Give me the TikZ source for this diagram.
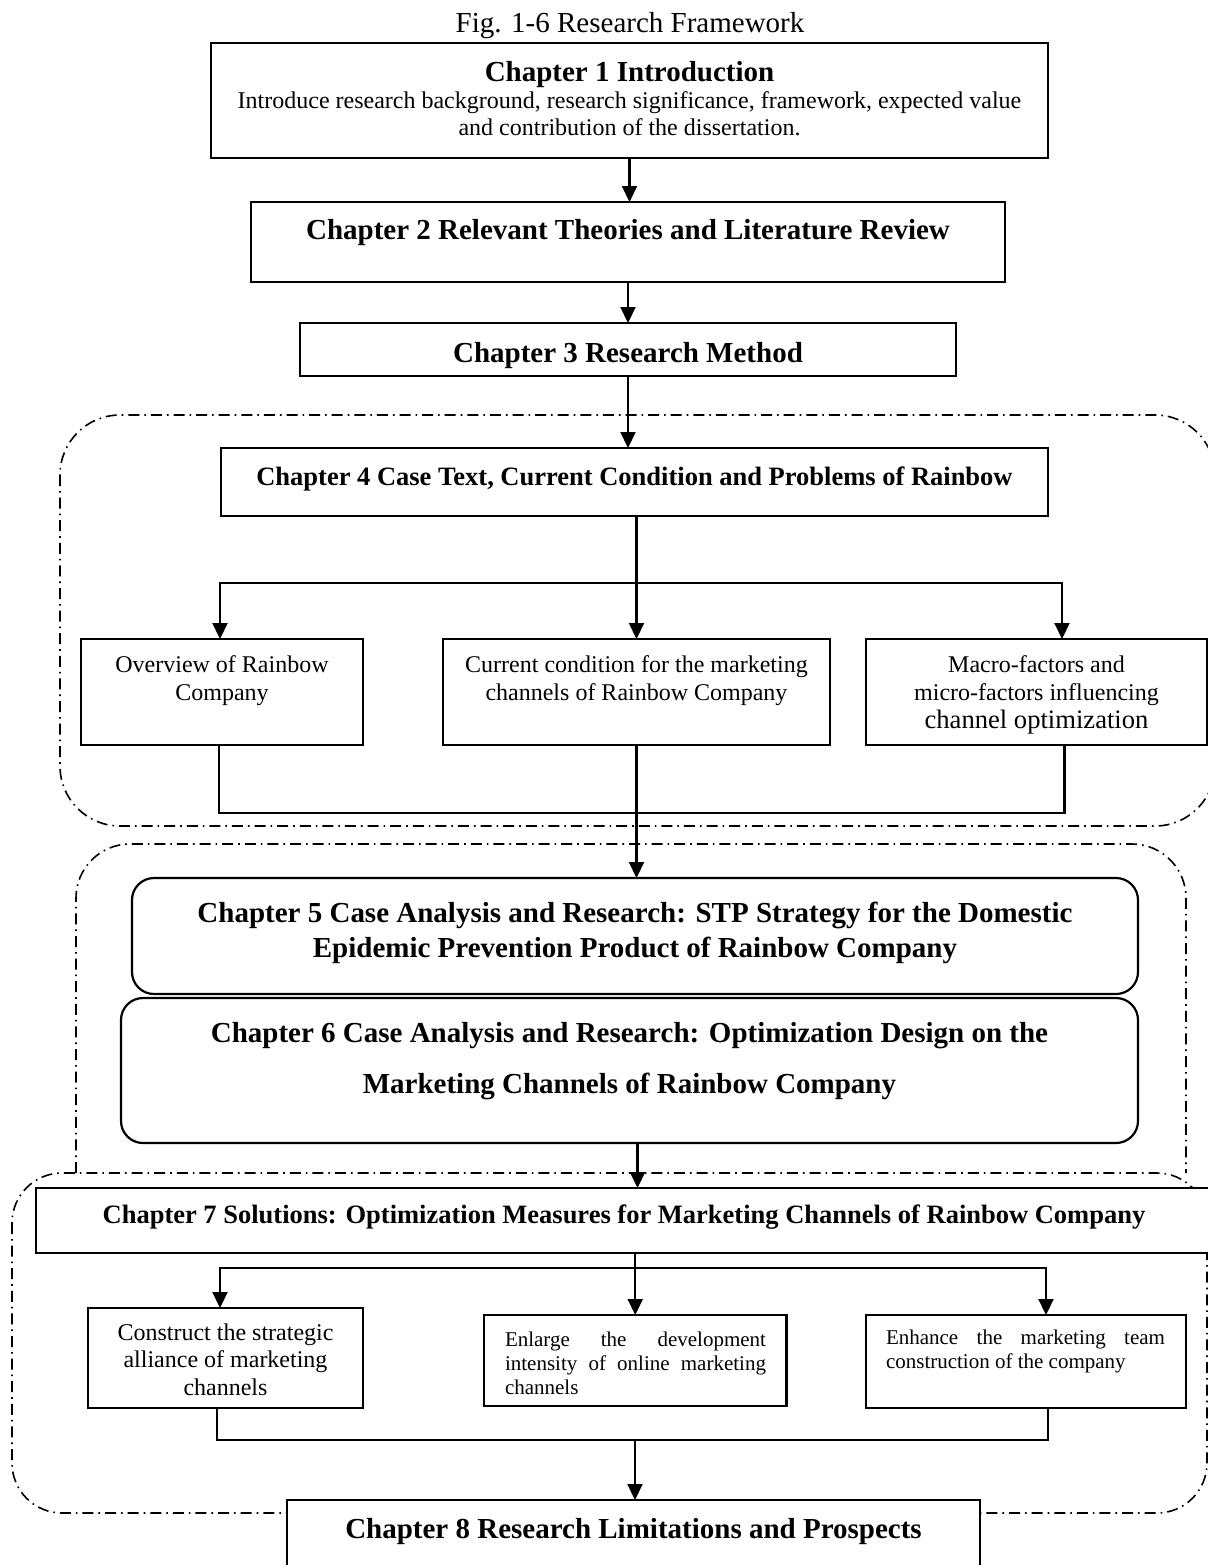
\documentclass[tikz,border=0pt]{standalone}
\usepackage{fontspec}
\setmainfont{Liberation Serif}
\usetikzlibrary{arrows.meta,calc}

% first baseline of a box text sits #1 below the top of the box
\newcommand\firstbase[1]{\null\vspace*{\dimexpr#1-\baselineskip\relax}}
% fixed-size text area: width, height, first-baseline offset, content
\newcommand\inbox[4]{\parbox[c][#2][t]{#1}{\firstbase{#3}#4}}

\begin{document}
\begin{tikzpicture}[x=0.5pt,y=-0.5pt,
  box/.style={draw, line width=1.1pt, fill=white, inner sep=0pt, outer sep=0pt},
  rbox/.style={box, rounded corners=11pt},
  conn/.style={line width=1.05pt},
  arr/.style={conn, -{Triangle[length=8pt,width=7.5pt]}},
  zone/.style={line width=0.8pt, dash pattern=on 5.5pt off 2.5pt on 0.8pt off 2.5pt},
  body/.style={font=\fontsize{12}{14}\selectfont},
  head/.style={font=\fontsize{14.5}{17}\selectfont\bfseries},
  subhead/.style={font=\fontsize{13.25}{16}\selectfont\bfseries},
  small/.style={font=\fontsize{10.5}{12}\selectfont}]

\useasboundingbox (0,0) rectangle (1208,1565);
\clip (0,0) rectangle (1208,1565);

% dash-dot grouping frames
\draw[zone, rounded corners=30pt] (60,415) rectangle (1215,826);
\draw[zone, rounded corners=27pt] (76,1173) -- (76,844) -- (1186,844) -- (1186,1173);
\draw[zone, rounded corners=25pt] (12,1173) rectangle (1207,1513);

% caption
\node[font=\fontsize{14.5}{17}\selectfont, anchor=base, inner sep=0pt] (cap) at (630,32) {Fig. 1-6 Research Framework};

% chapters 1-4
\node[box, font=\fontsize{12}{13.5}\selectfont] (ch1) at (629.5,100.5)
  {\inbox{418.5pt}{57.5pt}{19pt}{\centering{\fontsize{14.5}{13.5}\selectfont\bfseries Chapter 1 Introduction\par}Introduce research background, research significance, framework, expected value\\and contribution of the dissertation.}};
\node[box, head] (ch2) at (628,242)
  {\inbox{377pt}{40pt}{18.5pt}{\centering Chapter 2 Relevant Theories and Literature Review}};
\node[box, head] (ch3) at (628,349.5)
  {\inbox{328pt}{26.5pt}{19.5pt}{\centering Chapter 3 Research Method}};
\node[box, subhead] (ch4) at (634.5,482)
  {\inbox{413.5pt}{34pt}{18.5pt}{\centering Chapter 4 Case Text, Current Condition and Problems of Rainbow}};

% chapter 4 sub-topics
\node[box, body] (ov) at (222,692)
  {\inbox{141pt}{53pt}{16.5pt}{\centering Overview of Rainbow\\Company}};
\node[box, body] (cur) at (636.5,692)
  {\inbox{193.5pt}{53pt}{16.5pt}{\centering Current condition for the marketing\\channels of Rainbow Company}};
\node[box, body] (mac) at (1036.5,692)
  {\inbox{170.5pt}{53pt}{16.5pt}{\centering Macro-factors and\\micro-factors influencing\\{\fontsize{13.3}{14}\selectfont channel optimization}}};

% chapters 5 and 6
\node[rbox, font=\fontsize{14.5}{17.5}\selectfont\bfseries] (ch5) at (635,936)
  {\inbox{503pt}{58pt}{22pt}{\centering Chapter 5 Case Analysis and Research: STP Strategy for the Domestic\\Epidemic Prevention Product of Rainbow Company}};
\node[rbox, font=\fontsize{14.5}{25.5}\selectfont\bfseries] (ch6) at (629.5,1070.5)
  {\inbox{508.5pt}{72.5pt}{22pt}{\centering Chapter 6 Case Analysis and Research: Optimization Design on the\\Marketing Channels of Rainbow Company}};

% chapter 7 and its measures
\node[box, subhead] (ch7) at (624,1220.5)
  {\inbox{588pt}{32.5pt}{17.5pt}{\centering Chapter 7 Solutions: Optimization Measures for Marketing Channels of Rainbow Company}};
\node[box, font=\fontsize{12}{13.75}\selectfont] (con) at (225.5,1358)
  {\inbox{137.5pt}{50pt}{16pt}{\centering Construct the strategic\\alliance of marketing\\channels}};
\node[box, small] (enl) at (635.25,1360.5)
  {\inbox{151.25pt}{45.5pt}{15.5pt}{\raggedright\leftskip=10.5pt \makebox[130.5pt][s]{Enlarge the development}\\\makebox[130.5pt][s]{intensity of online marketing}\\channels}};
\node[box, small] (enh) at (1026,1361.5)
  {\inbox{160pt}{46.5pt}{14.5pt}{\raggedright\leftskip=10pt \makebox[139.5pt][s]{Enhance the marketing team}\\construction of the company}};

% chapter 8
\node[box, head] (ch8) at (633.5,1545)
  {\inbox{346.5pt}{45pt}{19pt}{\centering Chapter 8 Research Limitations and Prospects}};

% main flow
\draw[arr] (ch1.south) -- (ch1.south |- ch2.north);
\draw[arr] (ch2.south) -- (ch2.south |- ch3.north);
\draw[arr] (ch3.south) -- (ch3.south |- ch4.north);

% chapter 4 branching
\coordinate (j1) at (636.5,583);
\draw[arr] (cur.north |- ch4.south) -- (cur.north);
\draw[arr] (j1) -| ([xshift=-1pt]ov.north);
\draw[arr] (j1) -| ([xshift=12.75pt]mac.north);
\draw[conn] ([xshift=-1.5pt]ov.south) -- ++(0,68) -| ([xshift=14pt]mac.south);
\draw[arr] (cur.south) -- (cur.south |- ch5.north);

% chapter 6 to 7
\draw[arr] ([xshift=4pt]ch6.south) -- ([xshift=4pt]ch6.south |- ch7.north);

% chapter 7 branching
\coordinate (j2) at (636,1268);
\draw[arr] (ch7.south -| enl.north) -- (enl.north);
\draw[arr] (j2) -| ([xshift=-2.75pt]con.north);
\draw[arr] (j2) -| ([xshift=10pt]enh.north);
\draw[conn] ([xshift=-4.25pt]con.south) -- ++(0,32) -| ([xshift=11pt]enh.south);
\coordinate (m2) at (635,1440);
\draw[arr] (m2) -- (m2 |- ch8.north);

\end{tikzpicture}
\end{document}
